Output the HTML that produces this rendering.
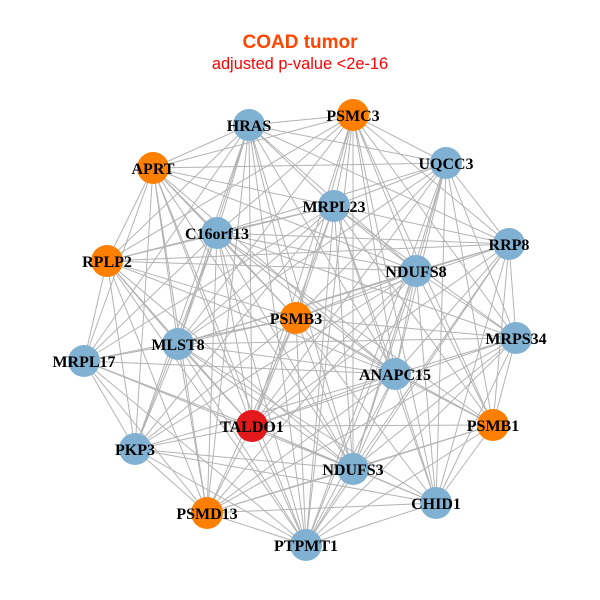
<!DOCTYPE html>
<html><head><meta charset="utf-8"><style>
html,body{margin:0;padding:0;background:#fff;}
svg{display:block;}
</style></head><body>
<svg width="600" height="600" viewBox="0 0 600 600" xmlns="http://www.w3.org/2000/svg">
<rect width="600" height="600" fill="#fff"/>
<text x="300" y="48" text-anchor="middle" font-family="Liberation Sans, sans-serif" font-weight="bold" font-size="19" fill="#FF4500">COAD tumor</text>
<text x="300" y="69" text-anchor="middle" font-family="Liberation Sans, sans-serif" font-size="16.4" fill="#FF0000">adjusted p-value &lt;2e-16</text>
<g stroke="#B3B3B3" stroke-width="1" fill="none">
<path d="M249 125L353 115M249 125L153 168M249 125L446 163M249 125L334 206M249 125L217 233M249 125L509 244M249 125L107 261M249 125L416 271M249 125L296 318M249 125L178 344M249 125L84 361M249 125L395 374M249 125L252 426M249 125L135 449M249 125L353 469M249 125L207 513M249 125L306 545"/>
<path d="M353 115L153 168M353 115L446 163M353 115L334 206M353 115L217 233M353 115L509 244M353 115L107 261M353 115L416 271M353 115L296 318M353 115L516 338M353 115L178 344M353 115L395 374M353 115L252 426M353 115L493 425M353 115L353 469M353 115L436 503M353 115L306 545"/>
<path d="M153 168L446 163M153 168L334 206M153 168L217 233M153 168L107 261M153 168L416 271M153 168L296 318M153 168L178 344M153 168L84 361M153 168L395 374M153 168L252 426M153 168L135 449M153 168L353 469M153 168L207 513M153 168L306 545"/>
<path d="M446 163L334 206M446 163L217 233M446 163L509 244M446 163L416 271M446 163L296 318M446 163L516 338M446 163L178 344M446 163L395 374M446 163L252 426M446 163L493 425M446 163L353 469M446 163L436 503M446 163L306 545"/>
<path d="M334 206L217 233M334 206L509 244M334 206L107 261M334 206L416 271M334 206L296 318M334 206L516 338M334 206L178 344M334 206L84 361M334 206L395 374M334 206L252 426M334 206L493 425M334 206L135 449M334 206L353 469M334 206L436 503M334 206L306 545"/>
<path d="M217 233L509 244M217 233L107 261M217 233L416 271M217 233L296 318M217 233L516 338M217 233L178 344M217 233L84 361M217 233L395 374M217 233L252 426M217 233L493 425M217 233L135 449M217 233L353 469M217 233L207 513M217 233L306 545"/>
<path d="M509 244L107 261M509 244L416 271M509 244L296 318M509 244L516 338M509 244L178 344M509 244L395 374M509 244L252 426M509 244L493 425M509 244L353 469M509 244L436 503M509 244L306 545"/>
<path d="M107 261L416 271M107 261L296 318M107 261L178 344M107 261L84 361M107 261L395 374M107 261L252 426M107 261L135 449M107 261L353 469M107 261L207 513M107 261L306 545"/>
<path d="M416 271L296 318M416 271L516 338M416 271L178 344M416 271L395 374M416 271L252 426M416 271L493 425M416 271L135 449M416 271L353 469M416 271L436 503M416 271L207 513M416 271L306 545"/>
<path d="M296 318L516 338M296 318L178 344M296 318L84 361M296 318L395 374M296 318L252 426M296 318L493 425M296 318L135 449M296 318L353 469M296 318L436 503M296 318L207 513M296 318L306 545"/>
<path d="M516 338L178 344M516 338L395 374M516 338L252 426M516 338L493 425M516 338L353 469M516 338L436 503M516 338L207 513M516 338L306 545"/>
<path d="M178 344L84 361M178 344L395 374M178 344L252 426M178 344L135 449M178 344L353 469M178 344L436 503M178 344L207 513M178 344L306 545"/>
<path d="M84 361L395 374M84 361L252 426M84 361L135 449M84 361L353 469M84 361L207 513M84 361L306 545"/>
<path d="M395 374L252 426M395 374L493 425M395 374L135 449M395 374L353 469M395 374L436 503M395 374L207 513M395 374L306 545"/>
<path d="M252 426L493 425M252 426L135 449M252 426L353 469M252 426L436 503M252 426L207 513M252 426L306 545"/>
<path d="M493 425L353 469M493 425L436 503M493 425L207 513M493 425L306 545"/>
<path d="M135 449L353 469M135 449L436 503M135 449L207 513M135 449L306 545"/>
<path d="M353 469L436 503M353 469L207 513M353 469L306 545"/>
<path d="M436 503L207 513M436 503L306 545"/>
<path d="M207 513L306 545"/>
</g>
<g stroke="none">
<circle cx="249" cy="125" r="16" fill="#80B1D3"/>
<circle cx="353" cy="115" r="16" fill="#FF7F00"/>
<circle cx="153" cy="168" r="16" fill="#FF7F00"/>
<circle cx="446" cy="163" r="16" fill="#80B1D3"/>
<circle cx="334" cy="206" r="16" fill="#80B1D3"/>
<circle cx="217" cy="233" r="16" fill="#80B1D3"/>
<circle cx="509" cy="244" r="16" fill="#80B1D3"/>
<circle cx="107" cy="261" r="16" fill="#FF7F00"/>
<circle cx="416" cy="271" r="16" fill="#80B1D3"/>
<circle cx="296" cy="318" r="16" fill="#FF7F00"/>
<circle cx="516" cy="338" r="16" fill="#80B1D3"/>
<circle cx="178" cy="344" r="16" fill="#80B1D3"/>
<circle cx="84" cy="361" r="16" fill="#80B1D3"/>
<circle cx="395" cy="374" r="16" fill="#80B1D3"/>
<circle cx="252" cy="426" r="16" fill="#E31A1C"/>
<circle cx="493" cy="425" r="16" fill="#FF7F00"/>
<circle cx="135" cy="449" r="16" fill="#80B1D3"/>
<circle cx="353" cy="469" r="16" fill="#80B1D3"/>
<circle cx="436" cy="503" r="16" fill="#80B1D3"/>
<circle cx="207" cy="513" r="16" fill="#FF7F00"/>
<circle cx="306" cy="545" r="16" fill="#80B1D3"/>
</g>
<g font-family="Liberation Serif, serif" font-weight="bold" font-size="16" fill="#000" text-anchor="middle">
<text x="249" y="131">HRAS</text>
<text x="353" y="121">PSMC3</text>
<text x="153" y="174">APRT</text>
<text x="446" y="169">UQCC3</text>
<text x="334" y="212">MRPL23</text>
<text x="217" y="239">C16orf13</text>
<text x="509" y="250">RRP8</text>
<text x="107" y="267">RPLP2</text>
<text x="416" y="277">NDUFS8</text>
<text x="296" y="324">PSMB3</text>
<text x="516" y="344">MRPS34</text>
<text x="178" y="350">MLST8</text>
<text x="84" y="367">MRPL17</text>
<text x="395" y="380">ANAPC15</text>
<text x="252" y="432">TALDO1</text>
<text x="493" y="431">PSMB1</text>
<text x="135" y="455">PKP3</text>
<text x="353" y="475">NDUFS3</text>
<text x="436" y="509">CHID1</text>
<text x="207" y="519">PSMD13</text>
<text x="306" y="551">PTPMT1</text>
</g>
</svg>
</body></html>
